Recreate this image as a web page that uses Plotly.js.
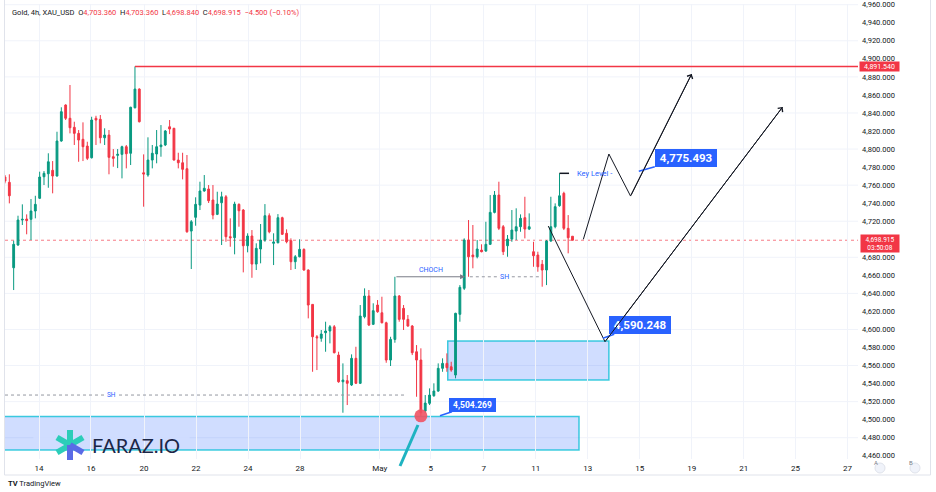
<!DOCTYPE html>
<html><head><meta charset="utf-8">
<script src="https://cdn.plot.ly/plotly-3.0.1.min.js"></script>
<style>html,body{margin:0;padding:0;background:#fff;}#chart{width:936px;height:492px;}</style>
</head><body><div id="chart"></div>
<script>
// ---- Candle data (4h, XAU_USD) ----
const openP = [4769.0,4763.1,4668.4,4693.6,4721.3,4722.4,4722.1,4731.3,4745.4,4769.3,
4772.6,4776.4,4770.1,4808.9,4848.8,4834.1,4824.1,4817.4,4810.8,4803.3,
4790.4,4834.1,4833.0,4812.5,4815.5,4791.5,4793.0,4794.1,4802.6,4795.3,
4845.8,4866.5,4773.7,4771.2,4787.8,4794.5,4802.6,4804.5,4824.7,4823.0,
4787.8,4784.8,4778.2,4709.1,4724.3,4737.9,4753.5,4755.7,4743.5,4727.6,
4740.5,4747.1,4702.8,4701.7,4738.7,4732.4,4692.8,4703.6,4672.5,4689.2,
4699.1,4726.1,4695.5,4696.1,4723.9,4706.6,4698.4,4675.1,4680.6,4688.8,
4665.9,4627.8,4591.9,4590.2,4596.4,4598.3,4603.0,4571.6,4542.0,4543.2,
4538.4,4568.0,4540.3,4614.1,4637.1,4605.7,4627.1,4618.5,4607.4,4566.1,
4589.0,4637.1,4623.4,4611.2,4603.8,4575.3,4566.1,4509.6,4518.1,4526.5,
4531.7,4556.9,4562.4,4558.7,4549.5,4616.8,4645.6,4699.1,4682.5,4680.6,
4688.0,4686.9,4694.4,4729.8,4749.0,4713.9,4692.8,4700.2,4709.1,4713.9,
4723.9,4711.3,4686.2,4682.5,4672.2,4665.9,4698.0,4713.9,4737.2,4750.9,
4712.1,4703.36];
const highP = [4771.2,4772.0,4698.4,4726.1,4738.7,4727.6,4744.6,4748.2,4774.9,4775.6,
4795.3,4786.7,4819.2,4846.3,4849.6,4871.0,4830.3,4821.1,4829.6,4808.1,
4835.8,4836.9,4837.7,4823.0,4821.1,4800.0,4800.0,4803.7,4804.5,4846.9,
4891.54,4867.3,4794.1,4813.0,4804.5,4821.1,4826.6,4821.1,4832.2,4823.5,
4795.9,4795.9,4793.4,4721.3,4746.5,4763.8,4771.2,4760.1,4760.1,4752.7,
4752.7,4749.0,4723.2,4741.6,4739.8,4733.5,4706.6,4710.2,4695.5,4716.9,
4739.0,4728.7,4706.6,4727.9,4725.0,4711.0,4701.0,4682.5,4699.9,4689.9,
4666.6,4628.0,4593.8,4599.4,4608.6,4604.9,4604.9,4575.3,4562.4,4549.5,
4572.4,4580.8,4627.1,4645.6,4643.7,4629.0,4632.6,4636.3,4608.6,4591.9,
4658.4,4638.2,4627.1,4616.0,4604.9,4582.7,4579.1,4527.3,4534.7,4540.3,
4562.4,4568.0,4573.5,4564.2,4618.5,4649.2,4701.0,4721.3,4715.8,4699.1,
4694.4,4719.4,4749.0,4753.5,4763.8,4715.8,4704.7,4732.4,4734.3,4727.6,
4747.1,4728.7,4697.2,4686.2,4677.0,4699.1,4747.1,4739.8,4773.1,4752.7,
4726.8,4703.36];
const lowP = [4762.0,4739.8,4643.7,4692.8,4715.8,4705.5,4699.1,4723.2,4744.6,4760.1,
4757.1,4750.9,4769.5,4808.1,4832.2,4817.4,4804.5,4785.9,4786.7,4787.8,
4789.5,4804.5,4806.3,4804.5,4772.0,4780.4,4778.9,4767.5,4778.6,4782.3,
4845.0,4829.5,4736.1,4769.3,4778.6,4784.2,4791.5,4803.3,4816.6,4787.3,
4778.6,4766.4,4707.2,4667.0,4715.0,4732.4,4752.7,4740.2,4722.1,4726.8,
4693.6,4697.2,4691.7,4683.3,4713.9,4663.3,4685.5,4657.3,4665.9,4673.3,
4697.2,4706.6,4671.4,4695.5,4704.7,4695.5,4665.9,4667.0,4680.0,4665.1,
4612.3,4553.1,4555.0,4586.4,4575.3,4584.6,4573.5,4540.9,4507.7,4516.2,
4537.3,4539.5,4539.5,4612.3,4603.8,4604.9,4618.5,4606.8,4563.1,4559.5,
4585.3,4608.6,4599.4,4603.0,4571.6,4525.4,4504.269,4507.0,4516.2,4525.4,
4530.9,4553.1,4553.1,4553.1,4545.8,4608.6,4643.7,4658.4,4667.8,4678.8,
4685.5,4686.2,4693.6,4728.7,4710.2,4682.5,4680.6,4697.2,4699.1,4708.3,
4701.0,4710.2,4669.5,4664.0,4647.4,4649.2,4697.2,4712.1,4736.1,4710.2,
4684.4,4698.84];
const closeP = [4764.5,4748.2,4694.4,4721.3,4722.1,4720.8,4731.3,4738.7,4769.0,4773.1,
4785.9,4770.1,4808.9,4841.4,4834.1,4823.6,4817.4,4810.0,4802.6,4789.7,
4832.2,4832.2,4812.5,4815.5,4790.8,4789.7,4794.1,4802.6,4794.8,4846.3,
4866.5,4830.3,4772.3,4787.8,4795.3,4802.6,4804.5,4820.0,4822.2,4787.8,
4784.8,4777.5,4708.3,4719.4,4738.7,4753.5,4756.5,4742.7,4726.8,4739.0,
4747.1,4702.8,4701.7,4739.0,4731.6,4692.8,4703.6,4672.5,4689.9,4699.1,
4726.1,4708.3,4696.9,4723.9,4705.5,4697.2,4675.1,4680.6,4688.8,4665.9,
4627.1,4591.9,4590.8,4594.9,4598.3,4603.0,4574.2,4542.0,4543.9,4540.3,
4568.0,4540.3,4614.9,4637.1,4604.9,4620.8,4619.6,4607.4,4566.1,4589.0,
4637.1,4611.2,4611.2,4603.8,4574.2,4566.1,4507.7,4518.4,4527.3,4531.7,
4556.9,4562.4,4557.6,4555.0,4617.9,4646.7,4699.1,4680.6,4680.6,4689.2,
4686.2,4694.4,4729.8,4749.0,4712.1,4686.2,4700.2,4710.2,4713.9,4723.2,
4711.3,4713.9,4681.7,4669.5,4665.9,4698.0,4713.9,4736.1,4748.2,4712.1,
4701.7,4698.915];

// ---- Axis ticks (4,700 is hidden behind the live-price tag, as in the source) ----
const tickIdx = [7.85,19.85,32.1,44.1,56.1,68.1,86.5,98.3,110.5,122.5,134.5,146.5,158.5,170.5,182.5,194.5];
const tickLabels = ['14','16','20','22','24','28','May','5','7','11','13','15','19','21','25','27'];
const priceTicks = [4460,4480,4500,4520,4540,4560,4580,4600,4620,4640,4660,4680,4720,4740,4760,4780,4800,4820,4840,4860,4880,4900,4920,4940,4960];
const gridPrices = [4480,4520,4560,4600,4640,4680,4720,4760,4800,4840,4880,4920,4960];
const xRange = [0, 196.9];
const yRange = [4456.4, 4960.8];

// ---- Drawings ----
const highIdx = 30, highLevel = 4891.54;
const lowIdx = 96, lowLevel = 4504.269;
const zoneX0 = [-2, 102.2];
const zoneX1 = [132.5, 139.4];
const zoneLow = [4466.3, 4543.9];
const zoneHigh = [4503.4, 4587.2];
const chochFrom = 90, chochTo = 106.2, chochLevel = 4658.4;
const shUpperX = [107.3, 123.5], shUpperLevel = 4658.4, shUpperTextX = 115.4;
const shLowerX = [0, 92.5], shLowerLevel = 4527.3, shLowerTextX = 24.5;
const keyLevelX = [128, 130.2], keyLevel = 4773.1, keyTextX = 131.6;
const pathAx = [125.4, 138.5, 179.5];
const pathAy = [4714.6, 4586.4, 4846.6];
const pathBx = [133.5, 139.4, 144.4, 158.5];
const pathBy = [4699.9, 4794.5, 4747.9, 4883.2];
const callouts = [
  {text:'4,504.269', x:100.4, y:4504.269, ax:33, ay:-11, size:8.5},
  {text:'4,590.248', x:138.0, y:4590.248, ax:37, ay:-13, size:11.5},
  {text:'4,775.493', x:146.3, y:4775.493, ax:47, ay:-13, size:11.5}
];

const GREEN = '#089981', RED = '#F23645', BLUE = '#2962FF';
const FONT = 'Roboto, "Liberation Sans", Arial, sans-serif';
const xIdx = openP.map((_, i) => i);
const lastClose = closeP[closeP.length - 1];

// paper helpers for decorations (plot area: x 5..858, y 4..459)
const PL = 5, PW = 853, PB = 459, PH = 455;
const px = v => (v - PL) / PW;
const py = v => (PB - v) / PH;

const traces = [
  {
    type: 'candlestick', x: xIdx, open: openP, high: highP, low: lowP, close: closeP,
    increasing: {line: {color: GREEN, width: 1}, fillcolor: GREEN},
    decreasing: {line: {color: RED, width: 1}, fillcolor: RED},
    whiskerwidth: 0, hoverinfo: 'skip', showlegend: false
  },
  {
    type: 'scatter', mode: 'markers', x: [lowIdx], y: [lowLevel],
    marker: {size: 13, color: 'rgba(240,82,100,0.9)', line: {width: 0}},
    hoverinfo: 'skip', showlegend: false
  },
  {
    type: 'scatter', mode: 'lines', x: pathAx, y: pathAy,
    line: {color: '#131722', width: 1}, hoverinfo: 'skip', showlegend: false
  },
  {
    type: 'scatter', mode: 'lines', x: pathBx, y: pathBy,
    line: {color: '#131722', width: 1}, hoverinfo: 'skip', showlegend: false
  }
];

const shapes = [];
gridPrices.forEach(g => shapes.push({type:'line', xref:'paper', x0:0, x1:1, yref:'y', y0:g, y1:g,
  line:{color:'#f0f3fa', width:1}, layer:'below'}));
for (let i = 0; i < zoneX0.length; i++) {
  shapes.push({type:'rect', xref:'x', yref:'y', x0:zoneX0[i], x1:zoneX1[i], y0:zoneLow[i], y1:zoneHigh[i],
    fillcolor:'rgba(41,98,255,0.22)', line:{color:'rgba(0,188,212,0.75)', width:1.5}, layer:'below'});
}
// logo pill
shapes.push({type:'path', xref:'paper', yref:'paper', xsizemode:'pixel', ysizemode:'pixel',
  xanchor: px(111.5), yanchor: py(442),
  path:'M -58.5,-20 L 58.5,-20 Q 78.5,-20 78.5,0 Q 78.5,20 58.5,20 L -58.5,20 Q -78.5,20 -78.5,0 Q -78.5,-20 -58.5,-20 Z',
  fillcolor:'rgba(255,255,255,0.88)', line:{width:0}, layer:'below'});
// logo strokes
const strokes = [[0,15,'#2ccdb9'],[13,7.5,'#2ccdb9'],[-13,7.5,'#2ccdb9'],[-13,-7.5,'#2ccdb9'],[0,-15,'#5a6be6'],[13,-7.5,'#5a6be6']];
strokes.forEach(s => shapes.push({type:'line', xref:'paper', yref:'paper', xsizemode:'pixel', ysizemode:'pixel',
  xanchor: px(70), yanchor: py(445), x0:0, y0:0, x1:s[0], y1:s[1], line:{color:s[2], width:6}}));
// current price dotted line
shapes.push({type:'line', xref:'paper', x0:0, x1:1, yref:'y', y0:lastClose, y1:lastClose,
  line:{color:'rgba(242,54,69,0.65)', width:1, dash:'dot'}, layer:'below'});
// high level red line
shapes.push({type:'line', xref:'x', yref:'y', x0:highIdx, x1:xRange[1], y0:highLevel, y1:highLevel,
  line:{color:RED, width:1.5}});
// SH dotted lines
shapes.push({type:'line', xref:'x', yref:'y', x0:shUpperX[0], x1:shUpperX[1], y0:shUpperLevel, y1:shUpperLevel,
  line:{color:'#9598a1', width:1, dash:'dot'}});
shapes.push({type:'line', xref:'x', yref:'y', x0:shLowerX[0], x1:shLowerX[1], y0:shLowerLevel, y1:shLowerLevel,
  line:{color:'#9598a1', width:1, dash:'dot'}});
// key level
shapes.push({type:'line', xref:'x', yref:'y', x0:keyLevelX[0], x1:keyLevelX[1], y0:keyLevel, y1:keyLevel,
  line:{color:'#131722', width:1.5}});
// teal pointer line near the low
shapes.push({type:'line', xref:'paper', yref:'paper', x0:px(400), y0:py(466), x1:px(418), y1:py(425),
  line:{color:'#1fb3c1', width:3}});
// frame
shapes.push({type:'rect', xref:'paper', yref:'paper', x0:px(4.5), x1:px(930.5), y0:py(475), y1:py(-3),
  line:{color:'#e0e3eb', width:1}, fillcolor:'rgba(0,0,0,0)'});
// A / B buttons
[880, 915].forEach(cx => shapes.push({type:'circle', xref:'paper', yref:'paper', xsizemode:'pixel', ysizemode:'pixel',
  xanchor: px(cx), yanchor: py(468), x0:-5, x1:5, y0:-5, y1:5, fillcolor:'#f0f3fa', line:{color:'#e0e3eb', width:1}}));

const annotations = [];
annotations.push({xref:'paper', yref:'paper', x:px(10), y:py(12), xanchor:'left', yanchor:'middle', showarrow:false,
  font:{family:FONT, size:7.5, color:'#131722'},
  text:'Gold, 4h, XAU_USD  O<span style="color:#F23645">4,703.360</span>  H<span style="color:#F23645">4,703.360</span>  L<span style="color:#F23645">4,698.840</span>  C<span style="color:#F23645">4,698.915</span>  <span style="color:#F23645">\u22124.500 (\u22120.10%)</span>'});
// CHOCH arrow + label
annotations.push({xref:'x', yref:'y', x:chochTo, y:chochLevel, axref:'x', ayref:'y', ax:chochFrom, ay:chochLevel,
  showarrow:true, arrowhead:2, arrowsize:1, arrowwidth:1, arrowcolor:'#787b86', text:'', standoff:0});
annotations.push({xref:'x', yref:'y', x:(chochFrom+chochTo)/2 + 0.3, y:chochLevel, yshift:7, showarrow:false,
  text:'CHOCH', font:{family:FONT, size:7, color:BLUE}});
annotations.push({xref:'x', yref:'y', x:shUpperTextX, y:shUpperLevel, showarrow:false, text:'SH',
  bgcolor:'#ffffff', borderpad:0, font:{family:FONT, size:7, color:BLUE}});
annotations.push({xref:'x', yref:'y', x:shLowerTextX, y:shLowerLevel, showarrow:false, text:'SH',
  bgcolor:'#ffffff', borderpad:0, font:{family:FONT, size:6.5, color:BLUE}});
annotations.push({xref:'x', yref:'y', x:keyTextX, y:keyLevel, xanchor:'left', showarrow:false, text:'Key Level -',
  font:{family:FONT, size:7.5, color:BLUE}});
// callouts
callouts.forEach(c => annotations.push({xref:'x', yref:'y', x:c.x, y:c.y, ax:c.ax, ay:c.ay,
  showarrow:true, arrowhead:0, arrowwidth:1.5, arrowcolor:BLUE, standoff:0,
  text:'<b>\u00a0' + c.text + '\u00a0</b>', bgcolor:BLUE, borderpad:2, bordercolor:BLUE, borderwidth:0,
  font:{family:FONT, size:c.size, color:'#ffffff'}}));
// path arrowheads
annotations.push({xref:'x', yref:'y', x:pathAx[2], y:pathAy[2], axref:'x', ayref:'y', ax:pathAx[1], ay:pathAy[1],
  showarrow:true, arrowhead:4, arrowsize:1.2, arrowwidth:1, arrowcolor:'#131722', text:'', standoff:0});
annotations.push({xref:'x', yref:'y', x:pathBx[3], y:pathBy[3], axref:'x', ayref:'y', ax:pathBx[2], ay:pathBy[2],
  showarrow:true, arrowhead:4, arrowsize:1.2, arrowwidth:1, arrowcolor:'#131722', text:'', standoff:0});
// axis price labels
annotations.push({xref:'paper', yref:'y', x:1, y:highLevel, xanchor:'left', xshift:1, showarrow:false,
  text:'4,891.540', bgcolor:RED, borderpad:0.5, width:38, font:{family:FONT, size:7, color:'#ffffff'}});
annotations.push({xref:'paper', yref:'y', x:1, y:lastClose, xanchor:'left', xshift:2, yshift:-3, showarrow:false,
  text:'4,698.915<br>03:50:08', bgcolor:RED, borderpad:0.5, width:37, font:{family:FONT, size:6.5, color:'#ffffff'}});
// watermark + footer
annotations.push({xref:'paper', yref:'paper', x:px(90), y:py(445), xanchor:'left', yanchor:'middle', showarrow:false,
  text:'FARAZ.IO', font:{family:'Lato, "Open Sans", sans-serif', size:20, color:'#1c2747'}});
annotations.push({xref:'paper', yref:'paper', x:px(6), y:py(483), xanchor:'left', yanchor:'middle', showarrow:false,
  text:'<b>TV</b> TradingView', font:{family:FONT, size:7.5, color:'#131722'}});
[['A',880],['B',915]].forEach(a => annotations.push({xref:'paper', yref:'paper', x:px(a[1]), y:py(468),
  showarrow:false, text:a[0], font:{family:FONT, size:6, color:'#787b86'}}));

const layout = {
  width: 936, height: 492,
  margin: {l: PL, r: 936 - PL - PW, t: 4, b: 492 - PB},
  paper_bgcolor: '#ffffff', plot_bgcolor: '#ffffff',
  showlegend: false, hovermode: false, boxgap: 0.4,
  font: {family: FONT, size: 8, color: '#131722'},
  xaxis: {
    type: 'linear', range: xRange, rangeslider: {visible: false},
    tickmode: 'array', tickvals: tickIdx, ticktext: tickLabels,
    showgrid: true, gridcolor: '#f0f3fa', gridwidth: 1, zeroline: false, showline: false,
    ticks: '', tickfont: {family: FONT, size: 8, color: '#131722'}, ticklabelstandoff: 3
  },
  yaxis: {
    side: 'right', range: yRange, tickmode: 'array', tickvals: priceTicks, tickformat: ',.3f',
    showgrid: false, zeroline: false, showline: false, ticks: '',
    tickfont: {family: FONT, size: 7.5, color: '#131722'}, ticklabelstandoff: 3
  },
  shapes: shapes, annotations: annotations
};

Plotly.newPlot('chart', traces, layout, {displayModeBar: false, staticPlot: true});
</script>
</body></html>
